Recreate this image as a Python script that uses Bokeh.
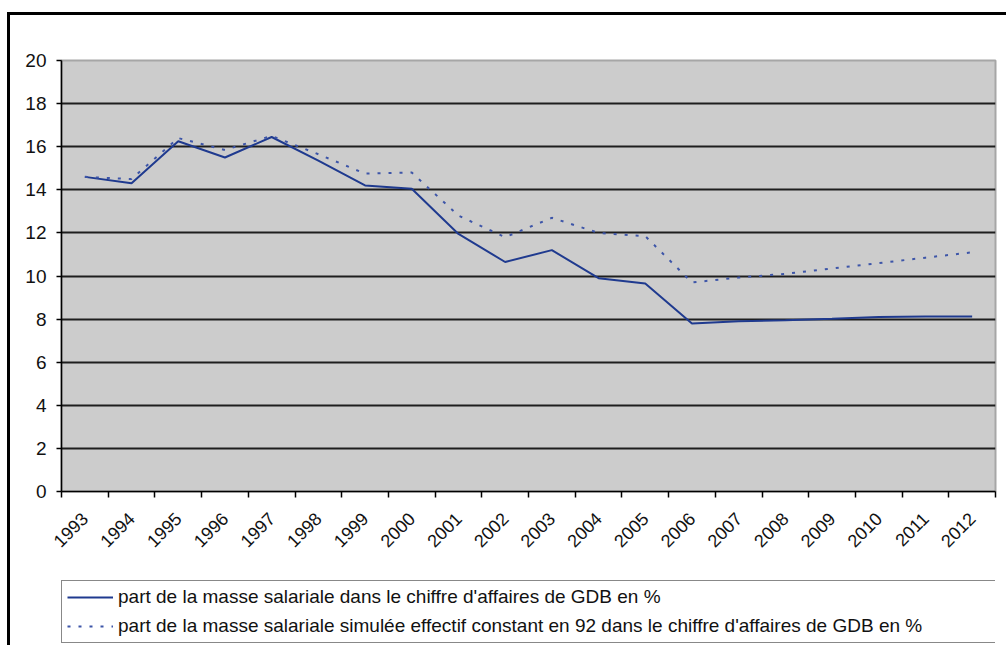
import math
from bokeh.plotting import figure
from bokeh.layouts import column
from bokeh.models import FixedTicker, Legend, LegendItem, Range1d
from bokeh.embed import file_html
from bokeh.resources import INLINE

years = list(range(1993, 2013))
part_masse = [14.6, 14.3, 16.25, 15.5, 16.45, 15.35, 14.2, 14.05, 11.95, 10.65,
              11.2, 9.9, 9.65, 7.8, 7.9, 7.95, 8.02, 8.1, 8.12, 8.12]
part_simulee = [14.6, 14.5, 16.4, 15.85, 16.5, 15.65, 14.75, 14.8, 12.8, 11.8,
                12.7, 12.0, 11.85, 9.7, 9.93, 10.1, 10.35, 10.6, 10.85, 11.1]
y_ticks = list(range(0, 21, 2))
labels = [
    "part de la masse salariale dans le chiffre d'affaires de GDB en %",
    "part de la masse salariale simulée effectif constant en 92 dans le chiffre d'affaires de GDB en %",
]

FONT = "Liberation Sans"
SOLID = dict(line_color="#1f3a8f", line_width=2)
DOTTED = dict(line_color="#3d55a8", line_width=2, line_dash="3 8")

p = figure(
    frame_width=934, frame_height=431,
    min_border_left=51, min_border_right=11, min_border_top=45, min_border_bottom=85,
    x_range=Range1d(years[0] - 0.5, years[-1] + 0.5),
    y_range=Range1d(0, 20),
    output_backend="svg", toolbar_location=None,
    background_fill_color="#cccccc", border_fill_color="white",
    outline_line_color="#a6a6a6", outline_line_width=2,
)

# x axis: labels at category centres, ticks at boundaries
p.xaxis.ticker = FixedTicker(ticks=years,
                             minor_ticks=[y - 0.5 for y in years] + [years[-1] + 0.5])
p.xaxis.major_tick_out = 0
p.xaxis.major_tick_in = 0
p.xaxis.minor_tick_out = 6
p.xaxis.minor_tick_in = 0
p.xaxis.minor_tick_line_color = "black"
p.xaxis.minor_tick_line_width = 1.5
p.xaxis.major_label_orientation = math.pi / 4
p.xaxis.major_label_standoff = 18
p.xaxis.major_label_text_font = FONT
p.xaxis.major_label_text_font_size = "18px"
p.xaxis.major_label_text_color = "#111111"
p.xaxis.axis_line_color = "black"
p.xaxis.axis_line_width = 1.5

p.yaxis.ticker = FixedTicker(ticks=y_ticks)
p.yaxis.major_tick_out = 5
p.yaxis.major_tick_in = 0
p.yaxis.minor_tick_line_color = None
p.yaxis.major_tick_line_color = "black"
p.yaxis.major_tick_line_width = 1.5
p.yaxis.major_label_standoff = 10
p.yaxis.major_label_text_font = FONT
p.yaxis.major_label_text_font_size = "19px"
p.yaxis.major_label_text_color = "#111111"
p.yaxis.axis_line_color = "black"
p.yaxis.axis_line_width = 1.5

p.xgrid.grid_line_color = None
p.ygrid.ticker = FixedTicker(ticks=y_ticks[1:-1])
p.ygrid.grid_line_color = "#1e1e1e"
p.ygrid.grid_line_width = 2

p.line(years, part_masse, **SOLID)
p.line(years, part_simulee, **DOTTED)

# legend strip below the chart (its view range excludes the data, only the keys show)
leg = figure(
    width=996, height=69,
    min_border_left=36, min_border_top=4, min_border_right=0, min_border_bottom=0,
    x_range=Range1d(0, 1), y_range=Range1d(0, 1),
    x_axis_location=None, y_axis_location=None,
    output_backend="svg", toolbar_location=None,
    background_fill_color="white", border_fill_color="white",
    outline_line_color=None,
)
leg.grid.visible = False
k1 = leg.line(years, part_masse, **SOLID)
k2 = leg.line(years, part_simulee, **DOTTED)

legend = Legend(
    items=[LegendItem(label=labels[0], renderers=[k1]),
           LegendItem(label=labels[1], renderers=[k2])],
    location="top_left",
    orientation="vertical",
    label_text_font=FONT, label_text_font_size="19px", label_text_color="#111111",
    glyph_width=46, glyph_height=22, label_height=22, label_width=885,
    label_standoff=5, spacing=7, padding=5, margin=0,
    border_line_color="#111111", border_line_width=1.5,
    background_fill_color="white", background_fill_alpha=1,
)
leg.add_layout(legend, "center")

layout = column(p, leg, spacing=0)
layout.styles = {"margin-top": "12px", "margin-left": "7px",
                 "border-top": "3px solid black", "border-left": "3px solid black"}

open("out.html", "w").write(file_html(layout, INLINE))
